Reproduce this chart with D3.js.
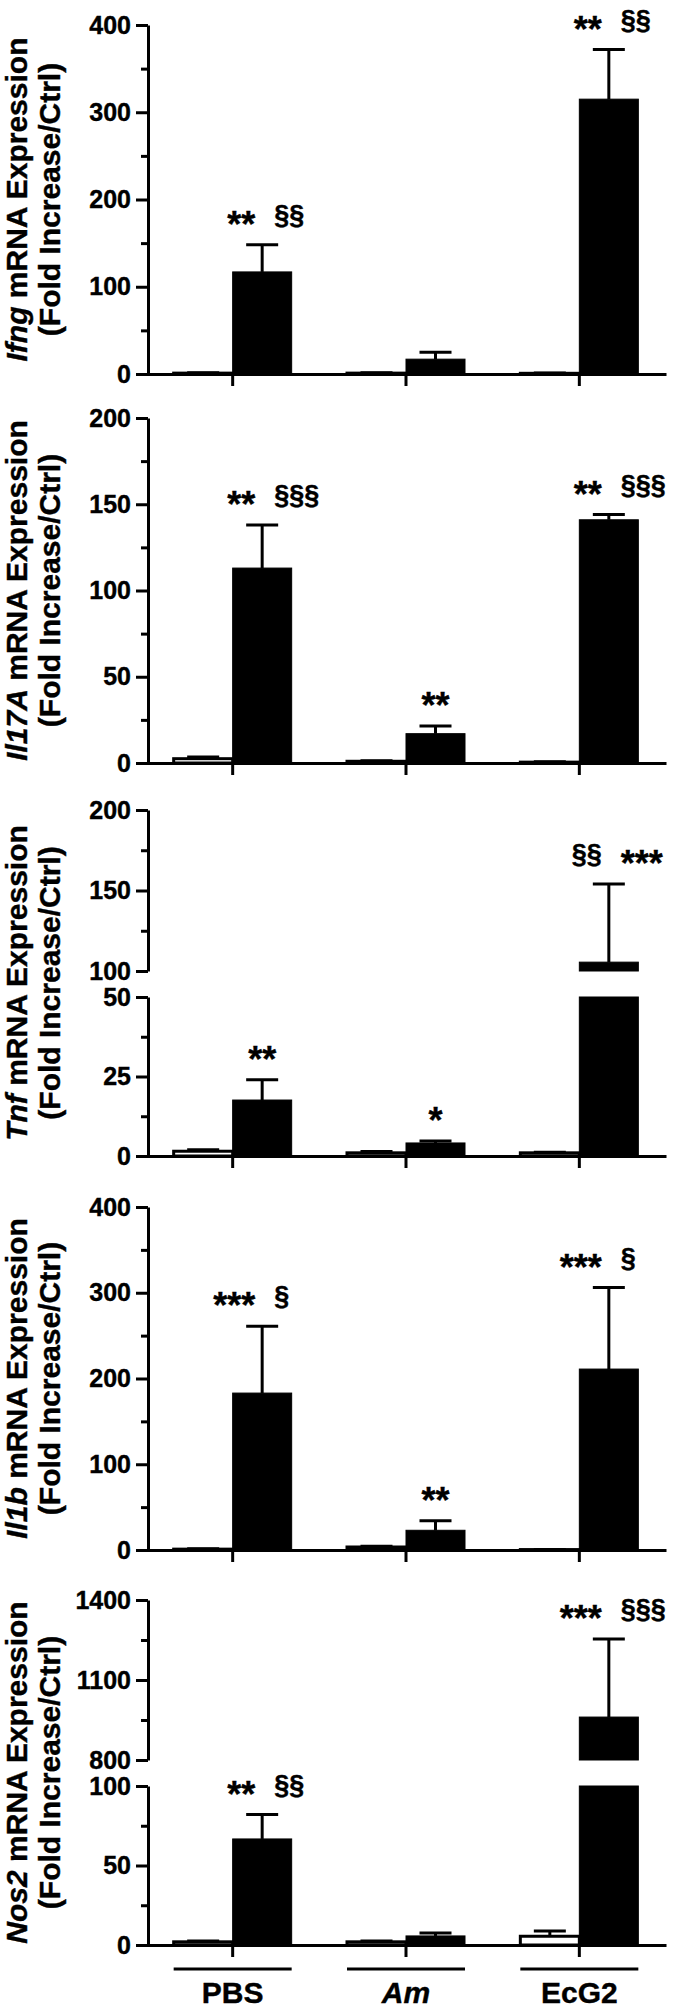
<!DOCTYPE html>
<html><head><meta charset="utf-8">
<script src="https://cdn.jsdelivr.net/npm/d3@7"></script>
<style>
body{margin:0;background:#fff}
svg{display:block}
text{font-family:"Liberation Sans",Arial,sans-serif;font-weight:bold;fill:#000;stroke:#000;stroke-width:0.4px}
</style>
</head><body><svg id="c" width="675" height="2008"></svg>
<script>
// ---------- DATA ----------
const categories = ["PBS", "Am", "EcG2"];
const categoryItalic = [false, true, false];
const genes = ["Ifng", "Il17A", "Tnf", "Il1b", "Nos2"];

const ifngCtrl = [1.0, 1.0, 0.8];
const ifngCtrlErr = [0.5, 0.5, 0.3];
const ifngTreated = [117, 17, 315];
const ifngTreatedErr = [31, 8, 57];
const ifngTicks = [0, 100, 200, 300, 400];
const ifngMinor = [50, 150, 250, 350];
const ifngSig = [["**", "§§"], ["", ""], ["**", "§§"]];

const il17aCtrl = [2.5, 1.0, 0.5];
const il17aCtrlErr = [1.0, 0.3, 0.2];
const il17aTreated = [113, 17, 141];
const il17aTreatedErr = [25, 4.5, 3];
const il17aTicks = [0, 50, 100, 150, 200];
const il17aMinor = [25, 75, 125, 175];
const il17aSig = [["**", "§§§"], ["**", ""], ["**", "§§§"]];

const tnfCtrl = [1.5, 1.0, 1.0];
const tnfCtrlErr = [0.5, 0.4, 0.2];
const tnfTreated = [17.6, 4.1, 105.5];
const tnfTreatedErr = [6.4, 0.6, 48.5];
const tnfTicksLow = [0, 25, 50];
const tnfMinorLow = [12.5, 37.5];
const tnfTicksHigh = [100, 150, 200];
const tnfMinorHigh = [125, 175];
const tnfSig = [["**", ""], ["*", ""], ["§§", "***"]];

const il1bCtrl = [1.0, 3.5, 0.5];
const il1bCtrlErr = [0.4, 1.0, 0.2];
const il1bTreated = [183, 23, 211];
const il1bTreatedErr = [78, 11, 95];
const il1bTicks = [0, 100, 200, 300, 400];
const il1bMinor = [50, 150, 250, 350];
const il1bSig = [["***", "§"], ["**", ""], ["***", "§"]];

const nos2Ctrl = [2.0, 2.0, 5.5];
const nos2CtrlErr = [0.5, 0.5, 3.3];
const nos2Treated = [66.7, 5.7, 961];
const nos2TreatedErr = [15.3, 1.8, 293];
const nos2TicksLow = [0, 50, 100];
const nos2MinorLow = [25, 75];
const nos2TicksHigh = [800, 1100, 1400];
const nos2MinorHigh = [950, 1250];
const nos2Sig = [["**", "§§"], ["", ""], ["***", "§§§"]];

// ---------- LAYOUT ----------
const panelTop = [25, 418, 810, 1207, 1600];
const panelBase = [374, 763, 1156, 1550, 1945];
const lowSegH = 159, gapH = 26;
const axisX = 148;
const barW = 59;

const panels = [
  {ctrl: ifngCtrl, ctrlErr: ifngCtrlErr, trt: ifngTreated, trtErr: ifngTreatedErr, sig: ifngSig,
   segs: [{ticks: ifngTicks, minor: ifngMinor}]},
  {ctrl: il17aCtrl, ctrlErr: il17aCtrlErr, trt: il17aTreated, trtErr: il17aTreatedErr, sig: il17aSig,
   segs: [{ticks: il17aTicks, minor: il17aMinor}]},
  {ctrl: tnfCtrl, ctrlErr: tnfCtrlErr, trt: tnfTreated, trtErr: tnfTreatedErr, sig: tnfSig,
   segs: [{ticks: tnfTicksLow, minor: tnfMinorLow}, {ticks: tnfTicksHigh, minor: tnfMinorHigh}]},
  {ctrl: il1bCtrl, ctrlErr: il1bCtrlErr, trt: il1bTreated, trtErr: il1bTreatedErr, sig: il1bSig,
   segs: [{ticks: il1bTicks, minor: il1bMinor}]},
  {ctrl: nos2Ctrl, ctrlErr: nos2CtrlErr, trt: nos2Treated, trtErr: nos2TreatedErr, sig: nos2Sig,
   segs: [{ticks: nos2TicksLow, minor: nos2MinorLow}, {ticks: nos2TicksHigh, minor: nos2MinorHigh}]}
];

const svg = d3.select("#c");
const x = d3.scaleBand().domain(categories).range([146, 666]).padding(0);
const cx = c => x(c) + x.bandwidth() / 2;

panels.forEach((p, i) => {
  const g = svg.append("g");
  const top = panelTop[i], base = panelBase[i];
  let scales;
  if (p.segs.length === 1) {
    const t = p.segs[0].ticks;
    scales = [d3.scaleLinear().domain([t[0], t[t.length - 1]]).range([base, top])];
  } else {
    const tl = p.segs[0].ticks, th = p.segs[1].ticks;
    scales = [
      d3.scaleLinear().domain([tl[0], tl[tl.length - 1]]).range([base, base - lowSegH]),
      d3.scaleLinear().domain([th[0], th[th.length - 1]]).range([base - lowSegH - gapH, top])
    ];
  }
  const lowMax = scales[0].domain()[1];
  const broken = scales.length === 2;
  const yOf = v => {
    if (!broken || v <= lowMax) return scales[0](v);
    const hs = scales[1];
    if (v >= hs.domain()[0]) return hs(v);
    return scales[0](lowMax);
  };

  function drawBar(cat, v, err, isCtrl) {
    const x0 = isCtrl ? cx(cat) - barW : cx(cat);
    const fill = isCtrl ? "#fff" : "#000";
    const pieces = [];
    if (broken && v > lowMax) {
      pieces.push([scales[0](0), scales[0](lowMax)]);
      pieces.push([scales[1](scales[1].domain()[0]), scales[1](v)]);
    } else {
      pieces.push([scales[0](0), yOf(v)]);
    }
    pieces.forEach(([y0, y1]) => {
      g.append("rect").attr("x", x0).attr("width", barW)
        .attr("y", y1).attr("height", Math.max(0.5, y0 - y1))
        .attr("fill", fill).attr("stroke", "#000").attr("stroke-width", isCtrl ? 3 : 1);
    });
    const yTop = yOf(v), yErr = yOf(v + err);
    const xm = x0 + barW / 2;
    g.append("line").attr("x1", xm).attr("x2", xm).attr("y1", yTop).attr("y2", yErr)
      .attr("stroke", "#000").attr("stroke-width", 3);
    g.append("line").attr("x1", xm - 16).attr("x2", xm + 16).attr("y1", yErr).attr("y2", yErr)
      .attr("stroke", "#000").attr("stroke-width", 3);
    return {xm, yErr};
  }

  categories.forEach((cat, j) => {
    drawBar(cat, p.ctrl[j], p.ctrlErr[j], true);
    const r = drawBar(cat, p.trt[j], p.trtErr[j], false);
    const [s1, s2] = p.sig[j];
    const cy = r.yErr - 28;
    const put = (s, xx, anchor) => {
      if (!s) return;
      const ast = s[0] === "*";
      const fs = ast ? 36 : 27;
      const off = ast ? 0.56 * fs : 0.27 * fs;
      g.append("text").attr("x", xx).attr("y", cy + off)
        .attr("text-anchor", anchor).attr("font-size", fs).text(s);
    };
    if (s1 && s2) {
      put(s1, r.xm - 7, "end");
      put(s2, r.xm + 12, "start");
    } else if (s1) {
      put(s1, r.xm, "middle");
    }
  });

  // y axes
  p.segs.forEach((s, k) => {
    const sc = scales[k];
    const ax = g.append("g").attr("transform", `translate(${axisX},0)`)
      .call(d3.axisLeft(sc).tickValues(s.ticks).tickSize(12).tickSizeOuter(0).tickPadding(5).tickFormat(d3.format("d")));
    ax.select(".domain").attr("stroke-width", 3);
    ax.selectAll(".tick line").attr("stroke-width", 3);
    ax.selectAll(".tick text").attr("font-size", 25).attr("font-family", null).attr("fill", "#000");
    const mn = g.append("g").attr("transform", `translate(${axisX},0)`)
      .call(d3.axisLeft(sc).tickValues(s.minor).tickSize(7).tickSizeOuter(0).tickFormat(""));
    mn.select(".domain").remove();
    mn.selectAll(".tick line").attr("stroke-width", 3);
  });

  // x axis
  const xa = g.append("g").attr("transform", `translate(0,${base})`)
    .call(d3.axisBottom(x).tickSize(12).tickSizeOuter(0).tickFormat(""));
  xa.select(".domain").attr("stroke-width", 3);
  xa.selectAll(".tick line").attr("stroke-width", 3);

  // y title
  const ymid = (top + base) / 2;
  const t1 = g.append("text").attr("transform", `translate(27,${ymid}) rotate(-90)`)
    .attr("text-anchor", "middle").attr("font-size", 30);
  t1.append("tspan").attr("font-style", "italic").text(genes[i]);
  t1.append("tspan").text(" mRNA Expression");
  g.append("text").attr("transform", `translate(60,${ymid}) rotate(-90)`)
    .attr("text-anchor", "middle").attr("font-size", 30).text("(Fold Increase/Ctrl)");
});

// group underlines and labels
categories.forEach((cat, j) => {
  svg.append("line").attr("x1", cx(cat) - barW).attr("x2", cx(cat) + barW)
    .attr("y1", 1969).attr("y2", 1969).attr("stroke", "#000").attr("stroke-width", 3);
  svg.append("text").attr("x", cx(cat)).attr("y", 2003).attr("text-anchor", "middle")
    .attr("font-size", 30).attr("font-style", categoryItalic[j] ? "italic" : null).text(cat);
});
</script>
</body></html>
